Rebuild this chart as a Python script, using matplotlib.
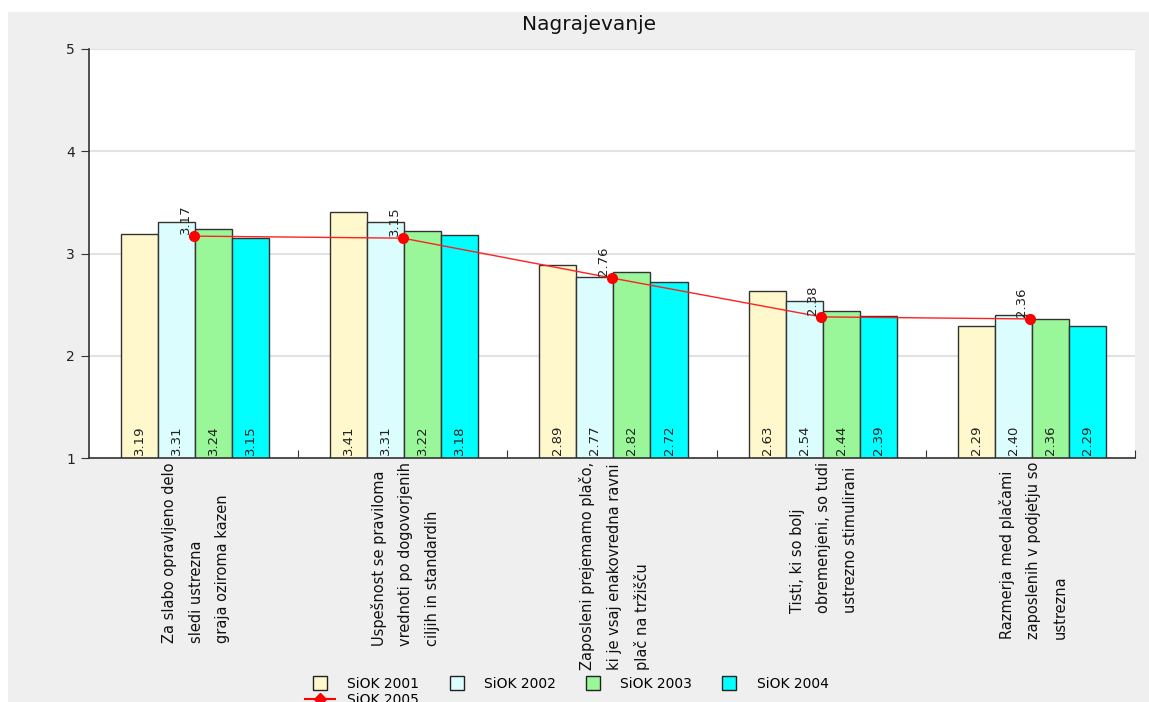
import matplotlib
matplotlib.use('Agg')
import matplotlib.pyplot as plt
from matplotlib.patches import Rectangle
from matplotlib.lines import Line2D
import matplotlib.transforms as mtransforms
import numpy as np

# categories and series values
categories = [
    "Za slabo opravljeno delo\nsledi ustrezna\ngraja oziroma kazen",
    "Uspešnost se praviloma\nvrednoti po dogovorjenih\nciljih in standardih",
    "Zaposleni prejemamo plačo,\nki je vsaj enakovredna ravni\nplač na tržišču",
    "Tisti, ki so bolj\nobremenjeni, so tudi\nustrezno stimulirani",
    "Razmerja med plačami\nzaposlenih v podjetju so\nustrezna",
]
siok_2001 = [3.19, 3.41, 2.89, 2.63, 2.29]
siok_2002 = [3.31, 3.31, 2.77, 2.54, 2.40]
siok_2003 = [3.24, 3.22, 2.82, 2.44, 2.36]
siok_2004 = [3.15, 3.18, 2.72, 2.39, 2.29]
siok_2005 = [3.17, 3.15, 2.76, 2.38, 2.36]

bar_series = [
    ("SiOK 2001", siok_2001, "#fff8cc"),
    ("SiOK 2002", siok_2002, "#dcfdfd"),
    ("SiOK 2003", siok_2003, "#99f799"),
    ("SiOK 2004", siok_2004, "#00ffff"),
]

plt.rcParams['font.family'] = ['DejaVu Sans']

W, H = 1149, 702
fig = plt.figure(figsize=(W / 100, H / 100), dpi=100)
fig.patch.set_facecolor('white')
# gray panel behind the chart
fig.add_artist(Rectangle((8 / W, -0.02), 1.02 - 8 / W, (H - 12) / H + 0.02,
                         transform=fig.transFigure, facecolor='#efefef',
                         edgecolor='none', zorder=-10))

ax = fig.add_axes([89 / W, 1 - 458 / H, (1135 - 89) / W, (458 - 49) / H])
ax.set_facecolor('white')

x = np.arange(len(categories))
bw = 0.177
for k, (name, vals, col) in enumerate(bar_series):
    pos = x + (k - 1.5) * bw + 0.007
    ax.bar(pos, vals, width=bw, color=col, edgecolor='#333333', linewidth=1, zorder=2)
    for px, v in zip(pos, vals):
        ax.text(px, 1.03, f"{v:.2f}", rotation=90, ha='center', va='bottom',
                fontsize=9.5, color='#222222', zorder=4)

ax.plot(x, siok_2005, color='#ff2020', linewidth=1, marker='o', markersize=7,
        markerfacecolor='red', markeredgecolor='red', zorder=5)
for px, v in zip(x, siok_2005):
    ax.text(px - 0.01, v + 0.02, f"{v:.2f}", rotation=90, ha='right', va='bottom',
            fontsize=9.5, color='#222222', zorder=6)

ax.set_xlim(-0.5, len(categories) - 0.5)
ax.set_ylim(1, 5)
ax.set_yticks([1, 2, 3, 4, 5])
ax.tick_params(axis='y', direction='out', length=6, labelsize=10, colors='#333333',
               labelcolor='#222222', pad=4)
ax.set_xticks(x + 0.5)
ax.tick_params(axis='x', direction='in', length=6, labelbottom=False, colors='#333333')
ax.yaxis.grid(True, color='#e2e2e2', linewidth=1.5, zorder=0)
ax.set_axisbelow(True)
for s in ['top', 'right']:
    ax.spines[s].set_visible(False)
for s in ['left', 'bottom']:
    ax.spines[s].set_color('#333333')
    ax.spines[s].set_linewidth(1.2)

trans = mtransforms.blended_transform_factory(ax.transData, ax.transAxes)
for i, lab in enumerate(categories):
    ax.text(i + 0.012, -0.01, lab, transform=trans, rotation=90, ha='center', va='top',
            multialignment='left', fontsize=10.5, linespacing=1.95, color='#111111')

fig.text(0.513, 1 - 25 / H, "Nagrajevanje", ha='center', va='center', fontsize=14.5,
         color='#111111')

# legend: column 1 holds 2001 and 2005, the rest one entry each
handles = []
labels = []
order = [0, None, 1, 2, 3]
for idx in order:
    if idx is None:
        handles.append(Line2D([], [], color='red', linewidth=1.5, marker='D',
                              markersize=6, markerfacecolor='red', markeredgecolor='red'))
        labels.append("SiOK 2005")
    else:
        name, vals, col = bar_series[idx]
        handles.append(Line2D([], [], linestyle='none', marker='s', markersize=10,
                              markerfacecolor=col, markeredgecolor='#222222',
                              markeredgewidth=1))
        labels.append(name)
fig.legend(handles, labels, ncol=4, loc='upper left',
           bbox_to_anchor=(305 / W, 1 - 677 / H), frameon=False, fontsize=10,
           handlelength=2.15, handletextpad=0.9, columnspacing=1.6,
           labelspacing=0.12, borderaxespad=0, borderpad=0)

fig.savefig('out.png', dpi=100)
